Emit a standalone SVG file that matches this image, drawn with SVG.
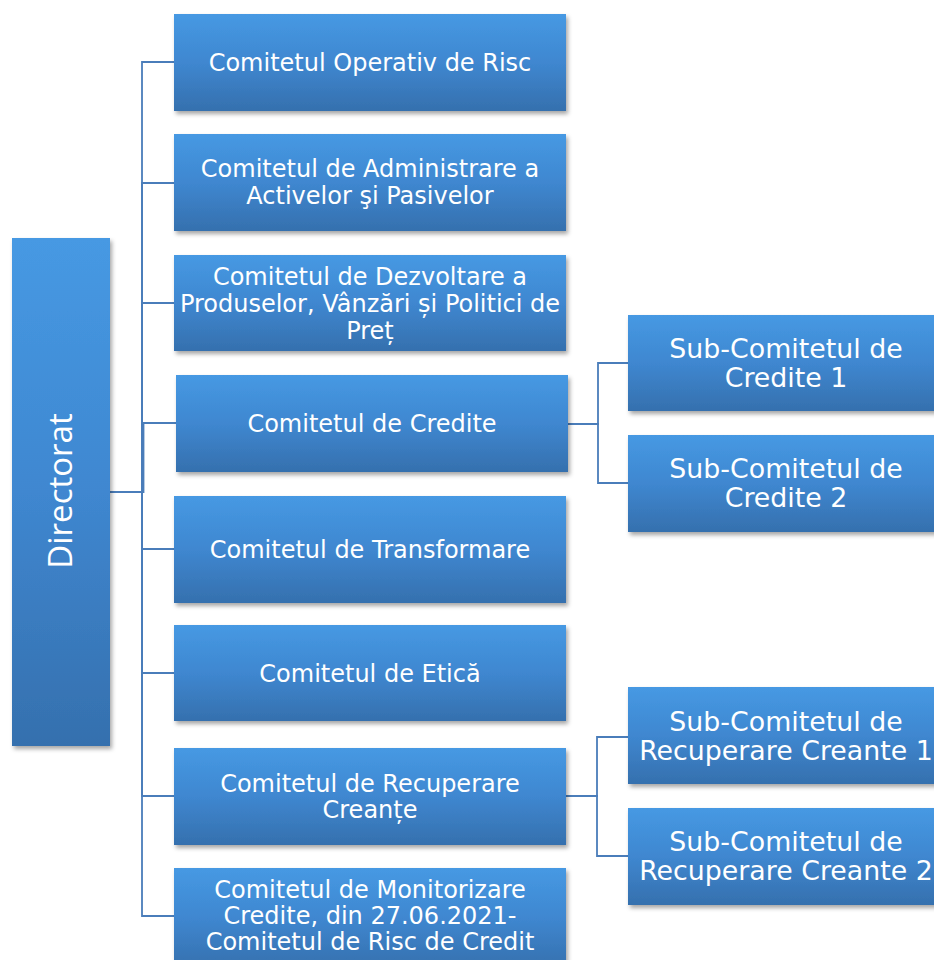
<svg xmlns="http://www.w3.org/2000/svg" width="934" height="960" viewBox="0 0 934 960">
<defs>
<linearGradient id="g" x1="0" y1="0" x2="0" y2="1">
<stop offset="0" stop-color="#4699e3"/>
<stop offset="0.5" stop-color="#3f87d0"/>
<stop offset="1" stop-color="#3570ae"/>
</linearGradient>
<filter id="sh" x="-10%" y="-10%" width="120%" height="130%">
<feDropShadow dx="2" dy="3" stdDeviation="2" flood-color="#000" flood-opacity="0.35"/>
</filter>
<style>
.box{fill:url(#g);filter:url(#sh);}
.t{fill:#fff;font-family:"DejaVu Sans",Verdana,sans-serif;font-size:24px;text-anchor:middle;}
.s{fill:#fff;font-family:"DejaVu Sans",Verdana,sans-serif;font-size:26.8px;text-anchor:middle;}
.d{fill:#fff;font-family:"Open Sans","Liberation Sans",sans-serif;font-size:33px;text-anchor:middle;}
.c{fill:none;stroke:#4a7dba;stroke-width:1.8;}
</style>
</defs>
<rect width="934" height="960" fill="#fff"/>
<g id="connectors">
<path class="c" d="M110 492 H142 V62 H174"/>
<path class="c" d="M110 492 H142 V183 H174"/>
<path class="c" d="M110 492 H142 V303 H174"/>
<path class="c" d="M110 492 H143.5 V423 H176"/>
<path class="c" d="M110 492 H142 V549 H174"/>
<path class="c" d="M110 492 H142 V673 H174"/>
<path class="c" d="M110 492 H142 V796 H174"/>
<path class="c" d="M110 492 H142 V916 H174"/>
<path class="c" d="M568 424 H598 V363 H628"/>
<path class="c" d="M568 424 H598 V483 H628"/>
<path class="c" d="M566 796 H597 V737 H628"/>
<path class="c" d="M566 796 H597 V856 H628"/>
</g>
<g id="directorat">
<rect class="box" x="12" y="238" width="98" height="508"/>
<text class="d" transform="translate(72,491) rotate(-90)">Directorat</text>
</g>
<g id="c1">
<rect class="box" x="174" y="14" width="392" height="97"/>
<text class="t" x="370" y="71">Comitetul Operativ de Risc</text>
</g>
<g id="c2">
<rect class="box" x="174" y="134" width="392" height="97"/>
<text class="t" x="370" y="177">Comitetul de Administrare a</text>
<text class="t" x="370" y="204">Activelor şi Pasivelor</text>
</g>
<g id="c3">
<rect class="box" x="174" y="255" width="392" height="96"/>
<text class="t" x="370" y="285">Comitetul de Dezvoltare a</text>
<text class="t" x="370" y="312">Produselor, Vânzări și Politici de</text>
<text class="t" x="370" y="339">Preț</text>
</g>
<g id="c4">
<rect class="box" x="176" y="375" width="392" height="97"/>
<text class="t" x="372" y="432">Comitetul de Credite</text>
</g>
<g id="c5">
<rect class="box" x="174" y="496" width="392" height="107"/>
<text class="t" x="370" y="558">Comitetul de Transformare</text>
</g>
<g id="c6">
<rect class="box" x="174" y="625" width="392" height="96"/>
<text class="t" x="370" y="682">Comitetul de Etică</text>
</g>
<g id="c7">
<rect class="box" x="174" y="748" width="392" height="97"/>
<text class="t" x="370" y="792">Comitetul de Recuperare</text>
<text class="t" x="370" y="818">Creanțe</text>
</g>
<g id="c8">
<rect class="box" x="174" y="868" width="392" height="100"/>
<text class="t" x="370" y="898">Comitetul de Monitorizare</text>
<text class="t" x="370" y="924">Credite, din 27.06.2021-</text>
<text class="t" x="370" y="950">Comitetul de Risc de Credit</text>
</g>
<g id="s1">
<rect class="box" x="628" y="315" width="318" height="96"/>
<text class="s" x="786" y="358">Sub-Comitetul de</text>
<text class="s" x="786" y="387">Credite 1</text>
</g>
<g id="s2">
<rect class="box" x="628" y="435" width="318" height="97"/>
<text class="s" x="786" y="478">Sub-Comitetul de</text>
<text class="s" x="786" y="507">Credite 2</text>
</g>
<g id="s3">
<rect class="box" x="628" y="687" width="318" height="97"/>
<text class="s" x="786" y="731">Sub-Comitetul de</text>
<text class="s" x="786" y="760">Recuperare Creante 1</text>
</g>
<g id="s4">
<rect class="box" x="628" y="808" width="318" height="97"/>
<text class="s" x="786" y="851">Sub-Comitetul de</text>
<text class="s" x="786" y="880">Recuperare Creante 2</text>
</g>
</svg>
